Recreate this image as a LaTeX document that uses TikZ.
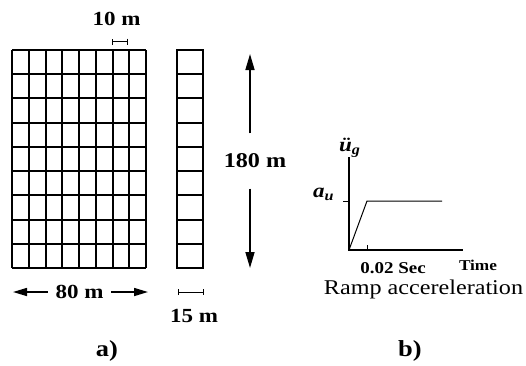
\documentclass[tikz,border=0pt]{standalone}
\usepackage{fontspec}
\setmainfont[FakeStretch=1.15]{Liberation Serif}
\usetikzlibrary{arrows.meta}

\begin{document}
\begin{tikzpicture}[x=1pt,y=-1pt,
  grid/.style={line width=1.6pt},
  dimbar/.style={line width=0.9pt,{Bar[width=6pt]}-{Bar[width=6pt]}},
  bigarrow/.style={line width=1.6pt,-{Triangle[length=16pt,width=9pt]}},
  midarrow/.style={line width=1.6pt,-{Triangle[length=14pt,width=8pt]}},
  lab/.style={font=\fontsize{20}{22}\selectfont\bfseries,inner sep=0pt},
  sublab/.style={font=\fontsize{23}{25}\selectfont\bfseries,inner sep=0pt},
  mlab/.style={font=\fontsize{20}{22}\selectfont\bfseries\itshape,inner sep=0pt,anchor=base west},
  axis/.style={line width=2pt},
  curve/.style={line width=1pt}]
\useasboundingbox (0,0) rectangle (526,365);
\foreach \i in {0,...,8} \draw[grid] ({round(12+\i*16.75)},50) -- ({round(12+\i*16.75)},268);
\foreach \j in {0,...,9} \draw[grid] (12,{round(50+\j*24.22)}) -- (146,{round(50+\j*24.22)});
\draw[grid] (177,50) rectangle (203,268);
\foreach \j in {1,...,8} \draw[grid] (177,{round(50+\j*24.22)}) -- (203,{round(50+\j*24.22)});

\coordinate (w10a) at (111.7,41.7);
\coordinate (w10b) at (128.3,41.7);
\draw[dimbar] (w10a) -- (w10b);
\node[lab] (t10) at (116.5,19) {10 m};

\coordinate (htop) at (250,54);
\coordinate (hbot) at (250,268);
\node[lab,font=\fontsize{21}{23}\selectfont\bfseries,minimum height=55pt] (t180) at (255,161) {180 m};
\draw[bigarrow] (t180.north -| htop) -- (htop);
\draw[bigarrow] (t180.south -| hbot) -- (hbot);

\coordinate (wl) at (13,292);
\coordinate (wr) at (148,292);
\node[lab,inner xsep=7.5pt] (t80) at (79.5,292) {80 m};
\draw[midarrow] (t80.west) -- (wl);
\draw[midarrow] (t80.east) -- (wr);

\coordinate (w15a) at (178,292);
\coordinate (w15b) at (204,292);
\draw[dimbar] (w15a) -- (w15b);
\node[lab] (t15) at (194,316) {15 m};

\node[sublab] (pa) at (107,351) {a)};
\node[sublab] (pb) at (410,351) {b)};

\coordinate (o) at (349,250);
\coordinate (ytop) at (349,157);
\coordinate (xend) at (463,250);
\draw[axis] (ytop) -- (o) -- (xend);
\coordinate (ramp) at (367,201);
\coordinate (flat) at (442,201);
\draw[curve] (o) -- (ramp) -- (flat);
\coordinate (ytick) at (343,201);
\draw[curve] (ytick) -- (ytick -| o);
\coordinate (xtick) at (367,245);
\draw[curve] (xtick |- o) -- (xtick);

\node[mlab] (uacc) at (339,151) {ü\textsubscript{g}};
\node[mlab] (au) at (313,197) {a\textsubscript{u}};
\node[lab,font=\fontsize{16.5}{18}\selectfont\bfseries] (t002) at (393,268) {0.02 Sec};
\node[lab,font=\fontsize{15}{17}\selectfont\bfseries] (ttime) at (478,265) {Time};
\node[lab,font=\fontsize{21}{23}\selectfont] (tramp) at (423.5,289) {Ramp accereleration};
\end{tikzpicture}
\end{document}
